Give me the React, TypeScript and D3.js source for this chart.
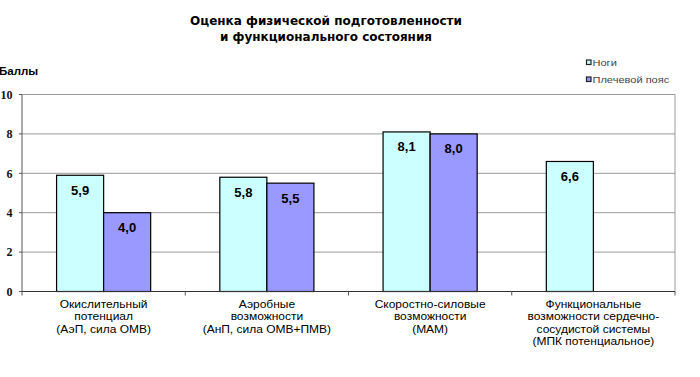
import React from "react";
import * as d3 from "d3";

const categories: string[][] = [
  ["Окислительный", "потенциал", "(АэП, сила ОМВ)"],
  ["Аэробные", "возможности", "(АнП, сила ОМВ+ПМВ)"],
  ["Скоростно-силовые", "возможности", "(МАМ)"],
  ["Функциональные", "возможности сердечно-", "сосудистой системы", "(МПК потенциальное)"],
];
const seriesNames = ["Ноги", "Плечевой пояс"];
const legs: (number | null)[] = [5.9, 5.8, 8.1, 6.6];
const shoulders: (number | null)[] = [4.0, 5.5, 8.0, null];
const yTicks = [0, 2, 4, 6, 8, 10];
const titleLines = ["Оценка физической подготовленности", "и функционального состояния"];
const yTitle = "Баллы";

const colors = ["#CCFFFF", "#9999FF"];

const W = 700;
const H = 377;
const left = 22;
const right = 675;
const top = 94.5;
const bottom = 291.5;

const fmt = (v: number) => d3.format(".1f")(v).replace(".", ",");

export default function App() {
  const x0 = d3
    .scaleBand<number>()
    .domain(categories.map((_, i) => i))
    .range([left, right])
    .padding(0);
  const x1 = d3
    .scaleBand<number>()
    .domain([0, 1])
    .range([0, x0.bandwidth()])
    .paddingInner(0)
    .paddingOuter(0.735);
  const y = d3.scaleLinear().domain([0, 10]).range([bottom, top]);
  const series = [legs, shoulders];
  const font = "'Liberation Sans', Arial, sans-serif";

  return (
    <svg
      width={W}
      height={H}
      style={{ position: "absolute", left: 0, top: 0, background: "#fff" }}
      fontFamily={font}
    >
      {/* title */}
      {titleLines.map((t, i) => (
        <text
          key={i}
          x={326}
          y={25 + i * 15.5}
          textAnchor="middle"
          fontFamily="'DejaVu Sans', Verdana, sans-serif"
          fontWeight="bold"
          fontSize={12}
          fill="#000"
        >
          {t}
        </text>
      ))}
      {/* y title */}
      <text x={-1} y={75} fontWeight="bold" fontSize={11.5} fill="#000">
        {yTitle}
      </text>
      {/* legend */}
      {seriesNames.map((s, i) => (
        <g key={s} transform={`translate(586, ${59.5 + i * 17})`}>
          <rect x={0.5} y={0.5} width={4.5} height={4.5} fill={colors[i]} stroke="#222" strokeWidth={1.2} />
          <text
            transform={`translate(6.5, 6) scale(1.3,1)`}
            fontSize={8.5}
            fill="#444"
          >
            {s}
          </text>
        </g>
      ))}
      {/* gridlines */}
      {yTicks
        .filter((t) => t > 0)
        .map((t) => (
          <line key={t} x1={left} x2={right} y1={y(t)} y2={y(t)} stroke="#9a9a9a" strokeWidth={1} />
        ))}
      <line x1={right} x2={right} y1={top} y2={bottom} stroke="#9a9a9a" strokeWidth={1} />
      {/* bars */}
      {series.map((vals, si) =>
        vals.map((v, ci) =>
          v == null ? null : (
            <g key={`${si}-${ci}`}>
              <rect
                x={(x0(ci) as number) + (x1(si) as number)}
                y={y(v)}
                width={x1.bandwidth()}
                height={bottom - y(v)}
                fill={colors[si]}
                stroke="#000"
                strokeWidth={1.2}
              />
              <text
                x={(x0(ci) as number) + (x1(si) as number) + x1.bandwidth() / 2}
                y={y(v) + 19.5}
                textAnchor="middle"
                fontWeight="bold"
                fontSize={13}
                fill="#000"
              >
                {fmt(v)}
              </text>
            </g>
          )
        )
      )}
      {/* axes */}
      <line x1={left} x2={left} y1={top} y2={bottom} stroke="#555" strokeWidth={1} />
      <line x1={left} x2={right} y1={bottom} y2={bottom} stroke="#333" strokeWidth={1.2} />
      {yTicks.map((t) => (
        <g key={t}>
          <line x1={left - 3} x2={left} y1={y(t)} y2={y(t)} stroke="#555" />
          <text
            x={12.5}
            y={y(t) + 4.2}
            textAnchor="end"
            fontFamily="'Liberation Serif', 'Times New Roman', serif"
            fontWeight="bold"
            fontSize={12}
            fill="#111"
          >
            {t}
          </text>
        </g>
      ))}
      {categories.map((_, i) => (
        <line
          key={i}
          x1={x0(i) as number}
          x2={x0(i) as number}
          y1={bottom}
          y2={bottom + 4}
          stroke="#555"
        />
      ))}
      <line x1={right} x2={right} y1={bottom} y2={bottom + 4} stroke="#555" />
      {/* category labels */}
      {categories.map((lines, i) => {
        const cx = (x0(i) as number) + x0.bandwidth() / 2;
        return lines.map((l, j) => (
          <text
            key={`${i}-${j}`}
            transform={`translate(${cx}, ${308 + j * 12.3}) scale(1.09,1)`}
            textAnchor="middle"
            fontSize={11}
            fill="#000"
          >
            {l}
          </text>
        ));
      })}
    </svg>
  );
}
